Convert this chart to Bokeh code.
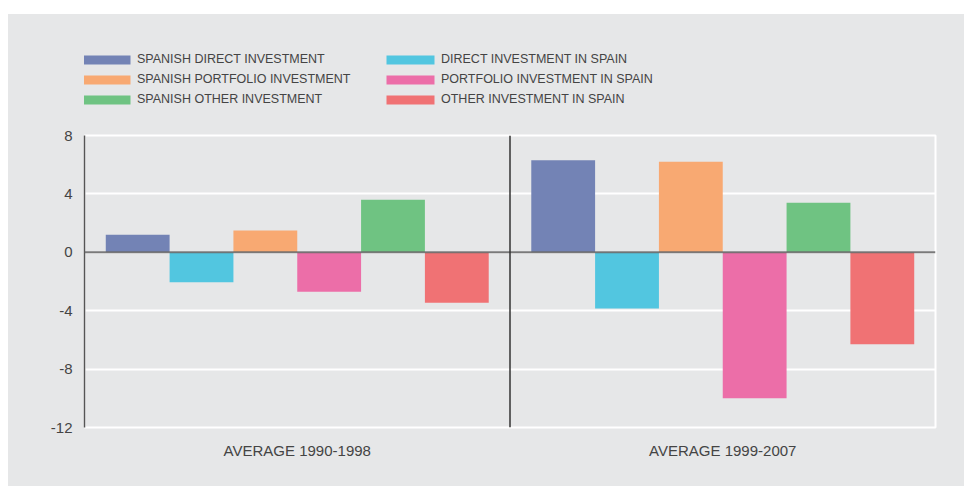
from bokeh.plotting import figure
from bokeh.models import (FactorRange, Range1d, Span, Legend, LegendItem,
                          FixedTicker, Spacer, ColumnDataSource, PrintfTickFormatter)
from bokeh.transform import dodge
from bokeh.layouts import column, row
from bokeh.embed import file_html
from bokeh.resources import INLINE

# ---- data ----
periods = ["AVERAGE 1990-1998", "AVERAGE 1999-2007"]
series_names = [
    "SPANISH DIRECT INVESTMENT",
    "DIRECT INVESTMENT IN SPAIN",
    "SPANISH PORTFOLIO INVESTMENT",
    "PORTFOLIO INVESTMENT IN SPAIN",
    "SPANISH OTHER INVESTMENT",
    "OTHER INVESTMENT IN SPAIN",
]
spanish_direct = [1.2, 6.3]
direct_in_spain = [-2.05, -3.85]
spanish_portfolio = [1.5, 6.2]
portfolio_in_spain = [-2.7, -10.0]
spanish_other = [3.6, 3.4]
other_in_spain = [-3.45, -6.3]
y_ticks = [-12, -8, -4, 0, 4, 8]

series_values = [spanish_direct, direct_in_spain, spanish_portfolio,
                 portfolio_in_spain, spanish_other, other_in_spain]
colors = ["#7383b5", "#52c6e0", "#f8a972", "#ec6ea8", "#6fc382", "#f07274"]

BG = "#e6e7e8"
FONT = "Liberation Sans"
W = 956

src = ColumnDataSource(dict(period=periods,
                            **{f"s{i}": v for i, v in enumerate(series_values)}))
bar_w = 0.15

# ---------------- main chart ----------------
p = figure(x_range=FactorRange(*periods, range_padding=0),
           y_range=Range1d(-12, 8),
           width=W, height=361,
           output_backend="svg", toolbar_location=None,
           min_border_left=76, min_border_right=29,
           min_border_top=10, min_border_bottom=59)
p.background_fill_color = BG
p.border_fill_color = BG
p.outline_line_color = "white"
p.outline_line_width = 2

for i, col in enumerate(colors):
    off = -0.375 + i * bar_w
    p.vbar(x=dodge("period", off, range=p.x_range), top=f"s{i}", bottom=0,
           width=bar_w, source=src, fill_color=col, line_color=None)

p.xgrid.grid_line_color = None
p.ygrid.grid_line_color = "white"
p.ygrid.grid_line_width = 2
p.ygrid.ticker = FixedTicker(ticks=y_ticks)

p.add_layout(Span(location=0, dimension="width", line_color="#6b6b6b",
                  line_width=2, line_alpha=0.9))
p.add_layout(Span(location=1, dimension="height", line_color="#333333",
                  line_width=1.5))

p.yaxis.ticker = FixedTicker(ticks=y_ticks)
p.yaxis.formatter = PrintfTickFormatter(format="%d")
p.yaxis.axis_line_color = "#555555"
p.yaxis.axis_line_width = 1.5
p.yaxis.major_tick_line_color = None
p.yaxis.major_tick_out = 0
p.yaxis.major_tick_in = 0
p.yaxis.minor_tick_line_color = None
p.yaxis.major_label_standoff = 12
p.yaxis.major_label_text_font = FONT
p.yaxis.major_label_text_font_size = "15px"
p.yaxis.major_label_text_color = "#444444"

p.xaxis.axis_line_color = None
p.xaxis.major_tick_line_color = None
p.xaxis.major_tick_out = 0
p.xaxis.major_tick_in = 0
p.xaxis.minor_tick_line_color = None
p.xaxis.major_label_standoff = 14
p.xaxis.major_label_text_font = FONT
p.xaxis.major_label_text_font_size = "15px"
p.xaxis.major_label_text_color = "#444444"

# ---------------- legend strip ----------------
lg = figure(width=W, height=111, x_axis_type=None, y_axis_type=None,
            x_range=FactorRange(*periods, range_padding=0),
            output_backend="svg", toolbar_location=None,
            min_border=0)
lg.background_fill_color = None
lg.border_fill_color = BG
lg.outline_line_color = None
lg.grid.grid_line_color = None
legend_renderers = []
for i, col in enumerate(colors):
    off = -0.375 + i * bar_w
    r = lg.vbar(x=dodge("period", off, range=lg.x_range), top=f"s{i}", bottom=0,
                width=bar_w, source=src, fill_color=col, line_color=None,
                visible=False)
    legend_renderers.append(r)

order = [0, 2, 4, 1, 3, 5]
items = [LegendItem(label=series_names[i], renderers=[legend_renderers[i]])
         for i in order]
legend = Legend(items=items, location=(-8, 19), orientation="vertical", nrows=3,
                glyph_width=60, glyph_height=11, label_height=9, label_width=237,
                spacing=6, label_standoff=1, padding=0, margin=0,
                inactive_fill_alpha=0,
                background_fill_alpha=0, border_line_color=None,
                label_text_font=FONT, label_text_font_size="12.5px",
                label_text_color="#444444")
lg.add_layout(legend, "center")

panel = column(lg, p, spacing=0, styles={"background-color": BG})
layout = row(Spacer(width=8, height=10),
             column(Spacer(height=14, width=10), panel, spacing=0),
             spacing=0)

open("out.html", "w").write(file_html(layout, INLINE))
